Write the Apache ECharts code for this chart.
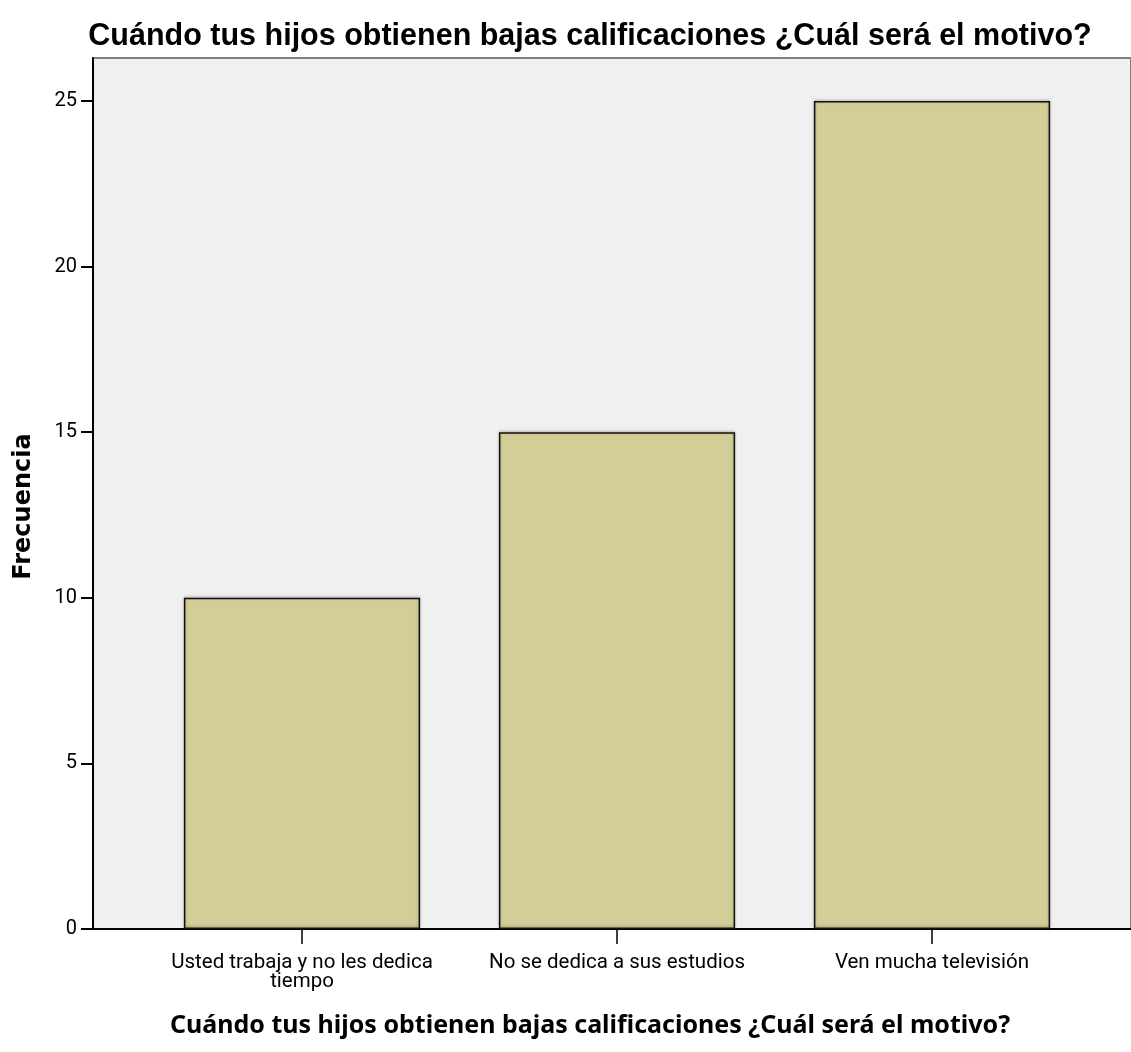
<!DOCTYPE html>
<html><head><meta charset="utf-8">
<script src="https://cdn.jsdelivr.net/npm/echarts@6/dist/echarts.min.js"></script>
<style>html,body{margin:0;padding:0;background:#fff}#c{width:1131px;height:1052px}</style>
</head><body><div id="c"></div>
<script>
const categories = ['Usted trabaja y no les dedica\ntiempo', 'No se dedica a sus estudios', 'Ven mucha televisión'];
const frecuencia = [10, 15, 25];
const yTicks = [0, 5, 10, 15, 20, 25];
const titleText = 'Cuándo tus hijos obtienen bajas calificaciones ¿Cuál será el motivo?';
const yName = 'Frecuencia';

const labelFont = 'Roboto, "Liberation Sans", Arial, sans-serif';
const YMAX = 26.3;
const chart = echarts.init(document.getElementById('c'), null, {renderer: 'canvas'});
chart.setOption({
  animation: false,
  title: [
    {text: titleText, left: 585, top: 16, textAlign: 'center',
     textStyle: {fontFamily: '"Liberation Sans", Arial, sans-serif', fontSize: 30.5, fontWeight: 'bold', color: '#000'}},
    {text: titleText, left: 585, top: 1008, textAlign: 'center',
     textStyle: {fontFamily: '"Noto Sans", "Open Sans", sans-serif', fontSize: 25, fontWeight: 'bold', color: '#000'}}
  ],
  grid: [
    {left: 93, top: 58, right: -20, bottom: 123, show: true, backgroundColor: '#f0f0f0', borderColor: '#808080', borderWidth: 2, containLabel: false},
    {left: 144.5, width: 945, top: 58, bottom: 123, containLabel: false}
  ],
  xAxis: [
    {type: 'value', gridIndex: 0, min: 0, max: 1, axisLine: {show: true, onZero: false, lineStyle: {color: '#000', width: 2}},
     axisTick: {show: false}, axisLabel: {show: false}, splitLine: {show: false}},
    {type: 'category', gridIndex: 1, data: categories,
     axisLine: {show: false},
     axisTick: {show: true, alignWithLabel: true, length: 15, lineStyle: {color: '#000', width: 1.5}},
     axisLabel: {fontFamily: labelFont, fontSize: 20.5, color: '#000', margin: 24, lineHeight: 19, interval: 0},
     splitLine: {show: false}}
  ],
  yAxis: [
    {type: 'value', gridIndex: 0, min: 0, max: YMAX, interval: 5,
     name: yName, nameLocation: 'middle', nameRotate: 90, nameGap: 57,
     nameTextStyle: {fontFamily: '"DejaVu Sans", Verdana, sans-serif', fontSize: 24, fontWeight: 'bold', color: '#000',
       padding: [0, 26, 0, 0]},
     axisLine: {show: true, lineStyle: {color: '#000', width: 2}},
     axisTick: {show: true, length: 12, customValues: yTicks, lineStyle: {color: '#000', width: 2}},
     axisLabel: {fontFamily: labelFont, fontSize: 20, color: '#000', margin: 16, customValues: yTicks},
     splitLine: {show: false}},
    {type: 'value', gridIndex: 1, min: 0, max: YMAX, show: false, splitLine: {show: false}}
  ],
  series: [{
    type: 'bar', xAxisIndex: 1, yAxisIndex: 1, data: frecuencia,
    barWidth: '75%',
    itemStyle: {color: '#d3cd97', borderColor: '#111', borderWidth: 1.5,
      shadowColor: 'rgba(0,0,0,0.25)', shadowBlur: 3, shadowOffsetY: -1}
  }]
});
</script></body></html>
